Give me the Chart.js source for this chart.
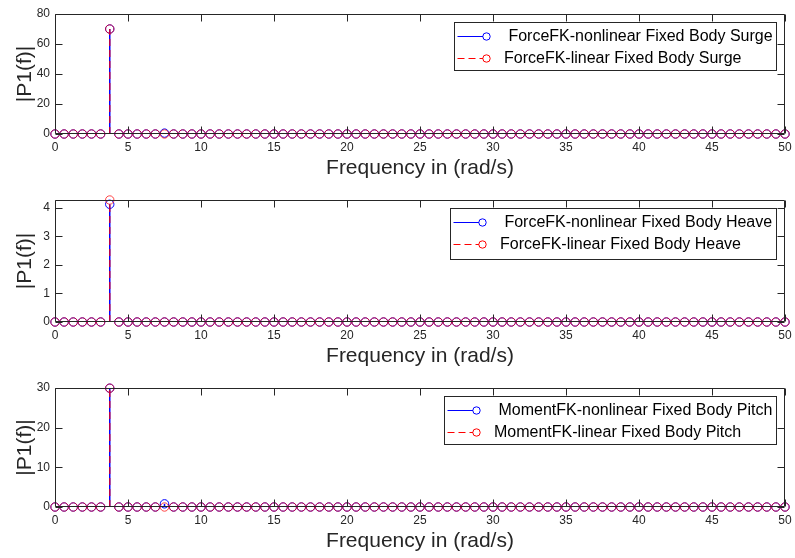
<!DOCTYPE html>
<html><head><meta charset="utf-8">
<script src="https://cdn.jsdelivr.net/npm/chart.js@4.4.1/dist/chart.umd.min.js"></script>
<style>
html,body{margin:0;padding:0;background:#fff;width:795px;height:558px;overflow:hidden;}
canvas{position:absolute;left:0;}
</style></head><body>
<canvas id="c1" width="795" height="182" style="top:0px"></canvas>
<canvas id="c2" width="795" height="184" style="top:186px"></canvas>
<canvas id="c3" width="795" height="181" style="top:374px"></canvas>
<script>
// ---- data ----
const freq = [
  0,0.625,1.25,1.875,2.5,3.125,3.75,4.375,
  5,5.625,6.25,6.875,7.5,8.125,8.75,9.375,
  10,10.625,11.25,11.875,12.5,13.125,13.75,14.375,
  15,15.625,16.25,16.875,17.5,18.125,18.75,19.375,
  20,20.625,21.25,21.875,22.5,23.125,23.75,24.375,
  25,25.625,26.25,26.875,27.5,28.125,28.75,29.375,
  30,30.625,31.25,31.875,32.5,33.125,33.75,34.375,
  35,35.625,36.25,36.875,37.5,38.125,38.75,39.375,
  40,40.625,41.25,41.875,42.5,43.125,43.75,44.375,
  45,45.625,46.25,46.875,47.5,48.125,48.75,49.375,
  50];
const surgeNonlinear = [
  0,0,0,0,0,0,70,0, 0,0,0,0,0.6,0,0,0, 0,0,0,0,0,0,0,0, 0,0,0,0,0,0,0,0, 0,0,0,0,0,0,0,0,
  0,0,0,0,0,0,0,0, 0,0,0,0,0,0,0,0, 0,0,0,0,0,0,0,0, 0,0,0,0,0,0,0,0, 0,0,0,0,0,0,0,0, 0];
const surgeLinear = [
  0,0,0,0,0,0,70,0, 0,0,0,0,0,0,0,0, 0,0,0,0,0,0,0,0, 0,0,0,0,0,0,0,0, 0,0,0,0,0,0,0,0,
  0,0,0,0,0,0,0,0, 0,0,0,0,0,0,0,0, 0,0,0,0,0,0,0,0, 0,0,0,0,0,0,0,0, 0,0,0,0,0,0,0,0, 0];
const heaveNonlinear = [
  0,0,0,0,0,0,4.12,0, 0,0,0,0,0,0,0,0, 0,0,0,0,0,0,0,0, 0,0,0,0,0,0,0,0, 0,0,0,0,0,0,0,0,
  0,0,0,0,0,0,0,0, 0,0,0,0,0,0,0,0, 0,0,0,0,0,0,0,0, 0,0,0,0,0,0,0,0, 0,0,0,0,0,0,0,0, 0];
const heaveLinear = [
  0,0,0,0,0,0,4.27,0, 0,0,0,0,0,0,0,0, 0,0,0,0,0,0,0,0, 0,0,0,0,0,0,0,0, 0,0,0,0,0,0,0,0,
  0,0,0,0,0,0,0,0, 0,0,0,0,0,0,0,0, 0,0,0,0,0,0,0,0, 0,0,0,0,0,0,0,0, 0,0,0,0,0,0,0,0, 0];
const pitchNonlinear = [
  0,0,0,0,0,0,29.95,0, 0,0,0,0,0.8,0,0,0, 0,0,0,0,0,0,0,0, 0,0,0,0,0,0,0,0, 0,0,0,0,0,0,0,0,
  0,0,0,0,0,0,0,0, 0,0,0,0,0,0,0,0, 0,0,0,0,0,0,0,0, 0,0,0,0,0,0,0,0, 0,0,0,0,0,0,0,0, 0];
const pitchLinear = [
  0,0,0,0,0,0,29.95,0, 0,0,0,0,0,0,0,0, 0,0,0,0,0,0,0,0, 0,0,0,0,0,0,0,0, 0,0,0,0,0,0,0,0,
  0,0,0,0,0,0,0,0, 0,0,0,0,0,0,0,0, 0,0,0,0,0,0,0,0, 0,0,0,0,0,0,0,0, 0,0,0,0,0,0,0,0, 0];
const freqTicks = [0,5,10,15,20,25,30,35,40,45,50];
const surgeTicks = [0,20,40,60,80];
const heaveTicks = [0,1,2,3,4];
const pitchTicks = [0,10,20,30];
const surgeLabels = [' ForceFK-nonlinear Fixed Body Surge', 'ForceFK-linear Fixed Body Surge'];
const heaveLabels = [' ForceFK-nonlinear Fixed Body Heave', 'ForceFK-linear Fixed Body Heave'];
const pitchLabels = [' MomentFK-nonlinear Fixed Body Pitch', 'MomentFK-linear Fixed Body Pitch'];
const xTitle = 'Frequency in (rad/s)';
const yTitle = '|P1(f)|';

// ---- styling ----
const AXIS = '#262626';
const FONT = '"Liberation Sans", Arial, Helvetica, sans-serif';

const stemPlugin = {
  id: 'stems',
  beforeDatasetDraw(chart, args) {
    const ds = chart.data.datasets[args.index];
    const y0 = chart.scales.y.getPixelForValue(0);
    const ctx = chart.ctx;
    ctx.save();
    ctx.strokeStyle = ds.borderColor;
    ctx.lineWidth = 1.5;
    ctx.setLineDash(ds.stemDash || []);
    args.meta.data.forEach(el => {
      if (Math.abs(el.y - y0) > 0.5) {
        ctx.beginPath();
        ctx.moveTo(el.x, y0);
        ctx.lineTo(el.x, el.y);
        ctx.stroke();
      }
    });
    ctx.restore();
  }
};

const boxPlugin = {
  id: 'mbox',
  afterDatasetsDraw(chart) {
    const ctx = chart.ctx;
    const a = chart.chartArea;
    const L = Math.round(a.left) + 0.5, R = Math.round(a.right) - 0.5;
    const T = Math.round(a.top) + 0.5, B = Math.round(a.bottom) - 0.5;
    const TL = 7;
    ctx.save();
    ctx.strokeStyle = AXIS;
    ctx.lineWidth = 1;
    ctx.beginPath();
    ctx.rect(L, T, R - L, B - T);
    chart.scales.x.ticks.forEach(t => {
      const px = Math.round(chart.scales.x.getPixelForValue(t.value)) + 0.5;
      ctx.moveTo(px, B); ctx.lineTo(px, B - TL);
      ctx.moveTo(px, T); ctx.lineTo(px, T + TL);
    });
    chart.scales.y.ticks.forEach(t => {
      const py = Math.round(chart.scales.y.getPixelForValue(t.value)) + 0.5;
      ctx.moveTo(L, py); ctx.lineTo(L + TL, py);
      ctx.moveTo(R, py); ctx.lineTo(R - TL, py);
    });
    ctx.stroke();
    ctx.restore();
  }
};

const legendPlugin = {
  id: 'mlegend',
  afterDraw(chart, args, opts) {
    const ctx = chart.ctx;
    const a = chart.chartArea;
    const dsets = chart.data.datasets;
    ctx.save();
    ctx.font = '16px ' + FONT;
    let maxW = 0;
    dsets.forEach(d => { maxW = Math.max(maxW, ctx.measureText(d.label).width); });
    const w = 49.5 + maxW + 4;
    const h = opts.height || 48;
    const right = Math.round(a.right) - 9;
    const left = Math.round(right - w) + 0.5;
    const top = Math.round(a.top) + 8 + 0.5;
    ctx.fillStyle = '#ffffff';
    ctx.fillRect(left, top, right - left, h);
    ctx.strokeStyle = AXIS;
    ctx.lineWidth = 1;
    ctx.strokeRect(left, top, right + 0.5 - left, h);
    dsets.forEach((d, i) => {
      const y = Math.round(top + 13 + i * 22.7) + 0.5;
      ctx.strokeStyle = d.legendColor;
      ctx.lineWidth = 1;
      ctx.setLineDash(d.stemDash || []);
      ctx.beginPath();
      ctx.moveTo(left + 3, y);
      ctx.lineTo(left + 28.5, y);
      ctx.stroke();
      ctx.setLineDash([]);
      ctx.beginPath();
      ctx.arc(left + 32, y, 3.7, 0, Math.PI * 2);
      ctx.stroke();
      ctx.fillStyle = '#000000';
      ctx.textBaseline = 'middle';
      ctx.textAlign = 'left';
      ctx.fillText(d.label, left + 49.5, y);
    });
    ctx.restore();
  }
};

function makeDatasets(labels, nonlin, lin) {
  return [
    {
      label: labels[0],
      data: freq.map((f, i) => ({x: f, y: nonlin[i]})),
      borderColor: '#0000ff', legendColor: '#0000ff',
      pointBorderColor: '#0000ff', pointBackgroundColor: 'rgba(0,0,0,0)',
      pointRadius: 4.2, pointHoverRadius: 4.2, pointBorderWidth: 1,
      showLine: false, clip: false, order: 1
    },
    {
      label: labels[1],
      data: freq.map((f, i) => ({x: f, y: lin[i]})),
      borderColor: 'rgba(255,0,0,0.72)', legendColor: '#ff0000', stemDash: [7, 4],
      pointBorderColor: 'rgba(255,0,0,0.72)', pointBackgroundColor: 'rgba(0,0,0,0)',
      pointRadius: 4.2, pointHoverRadius: 4.2, pointBorderWidth: 1,
      showLine: false, clip: false, order: 0
    }
  ];
}

function makeChart(id, labels, nonlin, lin, yMax, yTicks, legendH) {
  return new Chart(document.getElementById(id), {
    type: 'line',
    data: { datasets: makeDatasets(labels, nonlin, lin) },
    plugins: [stemPlugin, boxPlugin, legendPlugin],
    options: {
      responsive: false, animation: false, devicePixelRatio: 1, events: [],
      layout: { padding: { left: 0, right: 10, top: 14, bottom: 0 } },
      plugins: { legend: { display: false }, tooltip: { enabled: false }, mlegend: { height: legendH } },
      scales: {
        x: {
          type: 'linear', min: 0, max: 50,
          afterBuildTicks: s => { s.ticks = freqTicks.map(v => ({value: v})); },
          ticks: { font: { size: 12, family: FONT }, color: AXIS, padding: 6, maxRotation: 0, autoSkip: false },
          grid: { display: false, drawTicks: false },
          border: { display: false },
          title: { display: true, text: xTitle, color: AXIS, font: { size: 21, family: FONT }, padding: { top: 0, bottom: 1.4 } },
          afterFit: s => { s.height = 48; s.paddingLeft = 0; s.paddingRight = 0; }
        },
        y: {
          type: 'linear', min: 0, max: yMax,
          afterBuildTicks: s => { s.ticks = yTicks.map(v => ({value: v})); },
          ticks: { font: { size: 12, family: FONT }, color: AXIS, padding: 5, autoSkip: false },
          grid: { display: false, drawTicks: false },
          border: { display: false },
          title: { display: true, text: yTitle, color: AXIS, font: { size: 21, family: FONT }, padding: { top: 12.4, bottom: 0 } },
          afterFit: s => { s.width = 55; s.paddingTop = 0; s.paddingBottom = 0; }
        }
      }
    }
  });
}

makeChart('c1', surgeLabels, surgeNonlinear, surgeLinear, 80, surgeTicks, 48);
makeChart('c2', heaveLabels, heaveNonlinear, heaveLinear, 4.27, heaveTicks, 51);
makeChart('c3', pitchLabels, pitchNonlinear, pitchLinear, 30, pitchTicks, 48);
</script>
</body></html>
